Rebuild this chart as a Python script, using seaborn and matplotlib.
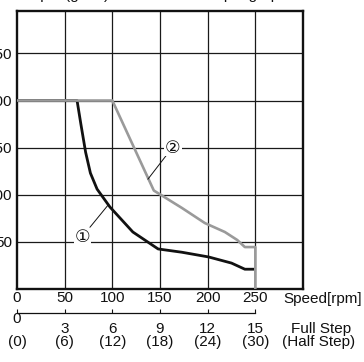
import matplotlib
matplotlib.use("Agg")
import matplotlib.pyplot as plt
import matplotlib.transforms as mtransforms
import numpy as np
import pandas as pd
import seaborn as sns

# Pull-out torque curves (speed in rpm, torque in g·cm)
speed_1 = [0, 63, 67, 72, 77, 84, 97.5, 121.5, 148, 173, 201, 225, 239, 248.5]
torque_1 = [200, 200, 175, 145, 123, 106, 87, 60.5, 42.5, 39, 34, 27.5, 21, 21]

speed_2 = [0, 100, 143.5, 173, 197, 218, 231, 239, 250, 250]
torque_2 = [200, 200, 104.5, 86, 70, 60.5, 52, 44.5, 44.5, 0]

speed_ticks = [0, 50, 100, 150, 200, 250]
torque_ticks = [50, 100, 150, 200, 250]
full_step = ["0", "3", "6", "9", "12", "15"]
half_step = ["(0)", "(6)", "(12)", "(18)", "(24)", "(30)"]

curve_labels = ["\u2460", "\u2461"]
label_pos = [(69, 55), (163.5, 149.5)]
leader_from = [(76.5, 65.5), (158.3, 144)]
leader_to = [(95.4, 88.9), (137.3, 116.5)]

sns.set_style("white")
plt.rcParams["font.family"] = ["Liberation Sans", "DejaVu Sans", "Noto Sans CJK JP"]
FS = 11

W, H = 364, 362
fig = plt.figure(figsize=(W / 100, H / 100), dpi=100)
ax = fig.add_axes([17 / W, (H - 289) / H, 286 / W, 278 / H])

df1 = pd.DataFrame({"speed": speed_1, "torque": torque_1})
df2 = pd.DataFrame({"speed": speed_2, "torque": torque_2})
sns.lineplot(data=df1, x="speed", y="torque", sort=False, estimator=None,
             color="#111111", linewidth=2.0, ax=ax, zorder=3)
sns.lineplot(data=df2, x="speed", y="torque", sort=False, estimator=None,
             color="#9a9a9a", linewidth=1.9, ax=ax, zorder=4)

ax.set_xlim(0, 300)
ax.set_ylim(0, 295)
ax.set_xticks(speed_ticks)
ax.set_xticklabels([str(v) for v in speed_ticks])
ax.set_yticks(torque_ticks)
ax.set_yticklabels([str(v) for v in torque_ticks])
ax.tick_params(axis="both", length=0, labelsize=FS, colors="#111111")
ax.tick_params(axis="x", pad=1.2)
ax.tick_params(axis="y", pad=3.6)
ax.set_xlabel("")
ax.set_ylabel("")

# grid: every 50 in both directions
for xv in speed_ticks[1:]:
    ax.axvline(xv, color="#1a1a1a", linewidth=0.9, zorder=1)
for yv in torque_ticks:
    ax.axhline(yv, color="#1a1a1a", linewidth=0.9, zorder=1)
for sp in ax.spines.values():
    sp.set_visible(True)
    sp.set_color("#111111")
    sp.set_linewidth(1.7)

# curve labels with leader lines
for lab, (lx, ly), (fx, fy), (tx, ty) in zip(curve_labels, label_pos, leader_from, leader_to):
    ax.plot([fx, tx], [fy, ty], color="#111111", linewidth=0.7, zorder=5)
    ax.text(lx, ly, lab, ha="center", va="center", fontsize=12.5,
            color="#111111", zorder=6,
            bbox=dict(boxstyle="square,pad=0.05", fc="white", ec="none"))

# step scale beneath the speed axis
sec = ax.secondary_xaxis(-24 / 278)
sec.set_xticks(speed_ticks)
sec.set_xticklabels([""] * len(speed_ticks))
sec.tick_params(direction="in", length=3.2, width=0.8, colors="#111111")
sec.spines["bottom"].set_bounds(0, 250)
sec.spines["bottom"].set_linewidth(0.9)
sec.spines["bottom"].set_color("#111111")

trans = mtransforms.blended_transform_factory(ax.transData, fig.transFigure)
for i, (xv, fs_lab, hs_lab) in enumerate(zip(speed_ticks, full_step, half_step)):
    base = 323 if i == 0 else 333
    fig.text(xv, 1 - base / H, fs_lab, transform=trans, ha="center",
             va="baseline", fontsize=FS, color="#111111")
    fig.text(xv, 1 - 346 / H, hs_lab, transform=trans, ha="center",
             va="baseline", fontsize=FS, color="#111111")

fig.text(283 / W, 1 - 303 / H, "Speed[rpm]", ha="left", va="baseline",
         fontsize=FS, color="#111111")
fig.text(291 / W, 1 - 333 / H, "Full Step", ha="left", va="baseline",
         fontsize=FS, color="#111111")
fig.text(282 / W, 1 - 346 / H, "(Half Step)", ha="left", va="baseline",
         fontsize=FS, color="#111111")

# axis title running along the top edge
fig.text(14 / W, 1 + 0.5 / H, "Torque (g·cm)", ha="left", va="baseline",
         fontsize=FS, color="#111111")
fig.text(145 / W, 1 + 0.5 / H, "Pull-out torque graph", ha="left",
         va="baseline", fontsize=FS, color="#111111")

fig.savefig("out.png", dpi=100)
